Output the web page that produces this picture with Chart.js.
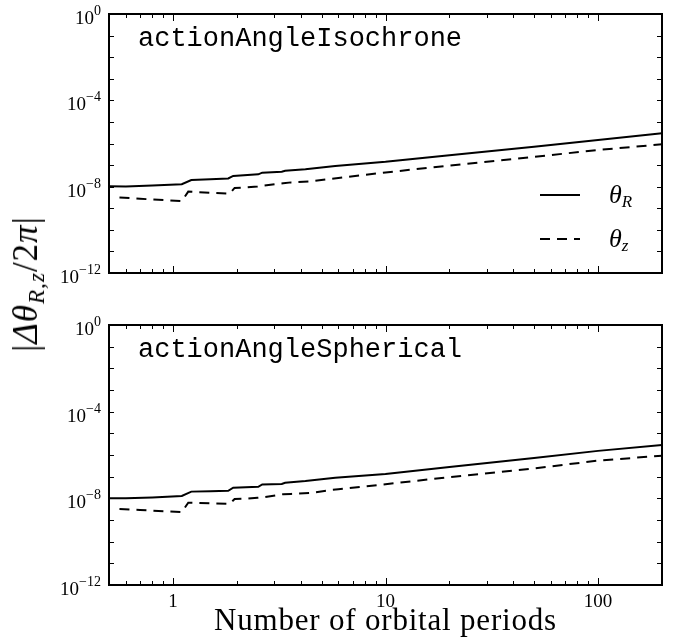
<!DOCTYPE html>
<html>
<head>
<meta charset="utf-8">
<script src="https://cdn.jsdelivr.net/npm/chart.js@4.4.1/dist/chart.umd.min.js"></script>
<style>
    html, body { margin: 0; padding: 0; background: #fff; }
    body { width: 673px; height: 644px; position: relative; overflow: hidden; }
    #grafico-arriba { position: absolute; left: 0; top: 0; }
    #grafico-abajo { position: absolute; left: 0; top: 300px; }
    #ylabel {
        position: absolute; left: 28px; top: 284px;
        transform: translate(-50%, -50%) rotate(-90deg);
        font-family: 'Liberation Serif', serif; font-size: 35px;
        white-space: nowrap; line-height: 1; letter-spacing: 1px;
    }
    #ylabel sub { font-size: 0.66em; vertical-align: -0.3em; }
</style>
</head>
<body>
<canvas id="grafico-arriba" width="673" height="300"></canvas>
<canvas id="grafico-abajo" width="673" height="344"></canvas>
<div id="ylabel">|<i>Δθ</i><sub><i>R,z</i></sub>/2<i>π</i>|</div>
<script>
// periods (x) and errors
const periodsR = [0.5, 0.6, 0.8, 1.1, 1.22, 1.5, 1.82, 1.92, 2.52, 2.63, 3.25, 3.37, 4.2, 5.8, 10, 20, 50, 100, 200];
const periodsZ = [0.56, 0.7, 1.1, 1.18, 1.5, 1.85, 1.95, 2.2, 2.5, 2.65, 3.3, 3.6, 4.5, 5.5, 6, 10, 20, 50, 100, 200];

// actionAngleIsochrone
const isoR = [1.05e-8, 1.02e-8, 1.12e-8, 1.29e-8, 2.04e-8, 2.19e-8, 2.40e-8, 3.16e-8, 3.72e-8, 4.47e-8, 4.90e-8, 5.50e-8, 6.46e-8, 9.12e-8, 1.41e-7, 2.88e-7, 7.08e-7, 1.45e-6, 2.95e-6];
const isoZ = [3.16e-9, 2.75e-9, 2.14e-9, 5.89e-9, 5.25e-9, 4.79e-9, 8.71e-9, 9.12e-9, 1.02e-8, 1.12e-8, 1.45e-8, 1.58e-8, 1.78e-8, 2.29e-8, 2.51e-8, 4.57e-8, 9.55e-8, 2.40e-7, 5.01e-7, 9.12e-7];

// actionAngleSpherical
const sphR = [1.00e-8, 1.00e-8, 1.10e-8, 1.29e-8, 2.04e-8, 2.14e-8, 2.24e-8, 3.09e-8, 3.39e-8, 4.37e-8, 4.57e-8, 5.25e-8, 6.31e-8, 8.91e-8, 1.32e-7, 2.82e-7, 7.24e-7, 1.55e-6, 2.88e-6];
const sphZ = [3.2e-9, 2.9e-9, 2.3e-9, 6.3e-9, 5.9e-9, 5.6e-9, 9.3e-9, 9.6e-9, 1.07e-8, 1.12e-8, 1.55e-8, 1.60e-8, 1.80e-8, 2.40e-8, 2.60e-8, 4.50e-8, 9.50e-8, 2.40e-7, 5.50e-7, 9.30e-7];

const panelTitles = ['actionAngleIsochrone', 'actionAngleSpherical'];
const legendSubs = ['R', 'z'];

// ticks
const xMajorTicks = [1, 10, 100];
const xTickLabels = ['1', '10', '100'];
const xMinorTicks = [0.6, 0.7, 0.8, 0.9, 2, 3, 4, 5, 6, 7, 8, 9, 20, 30, 40, 50, 60, 70, 80, 90];
const yTicks = [1e0, 1e-1, 1e-2, 1e-3, 1e-4, 1e-5, 1e-6, 1e-7, 1e-8, 1e-9, 1e-10, 1e-11, 1e-12];
const yLabelTicks = [1e0, 1e-4, 1e-8, 1e-12];
const yTickExps = ['0', '\u22124', '\u22128', '\u221212'];
const xTitle = 'Number of orbital periods';

const SERIF = "'Liberation Serif', 'DejaVu Serif', serif";

function puntos(xs, ys) {
    return xs.map((x, i) => ({ x: x, y: ys[i] }));
}

// marco, ticks hacia adentro, etiquetas, titulo del panel y leyenda
const marcoPlugin = {
    id: 'marco',
    afterDraw(chart, args, opts) {
        const ctx = chart.ctx;
        const a = chart.chartArea;
        const xs = chart.scales.x, ys = chart.scales.y;
        ctx.save();
        ctx.strokeStyle = '#000';
        ctx.fillStyle = '#000';

        // ticks
        ctx.lineWidth = 1;
        ctx.beginPath();
        yTicks.forEach(v => {
            const y = Math.round(ys.getPixelForValue(v)) + 0.5;
            ctx.moveTo(a.left, y); ctx.lineTo(a.left + 5, y);
            ctx.moveTo(a.right, y); ctx.lineTo(a.right - 5, y);
        });
        xMinorTicks.forEach(v => {
            const x = Math.round(xs.getPixelForValue(v)) + 0.5;
            ctx.moveTo(x, a.bottom); ctx.lineTo(x, a.bottom - 4);
            ctx.moveTo(x, a.top); ctx.lineTo(x, a.top + 4);
        });
        ctx.stroke();
        ctx.beginPath();
        xMajorTicks.forEach(v => {
            const x = Math.round(xs.getPixelForValue(v)) + 0.5;
            ctx.moveTo(x, a.bottom); ctx.lineTo(x, a.bottom - 7);
            ctx.moveTo(x, a.top); ctx.lineTo(x, a.top + 7);
        });
        ctx.stroke();

        // marco
        ctx.lineWidth = 2;
        ctx.strokeRect(a.left, a.top, a.right - a.left, a.bottom - a.top);

        // etiquetas del eje y
        ctx.textBaseline = 'alphabetic';
        ctx.textAlign = 'left';
        yLabelTicks.forEach((v, i) => {
            const y = ys.getPixelForValue(v);
            ctx.font = '19px ' + SERIF;
            const w10 = ctx.measureText('10').width;
            ctx.font = '14px ' + SERIF;
            const we = ctx.measureText(yTickExps[i]).width;
            const x0 = a.left - 8 - w10 - we;
            ctx.font = '19px ' + SERIF;
            ctx.fillText('10', x0, y + 10);
            ctx.font = '14px ' + SERIF;
            ctx.fillText(yTickExps[i], x0 + w10, y + 1);
        });

        // etiquetas del eje x
        if (opts.xLabels) {
            ctx.textAlign = 'center';
            ctx.font = '19px ' + SERIF;
            xMajorTicks.forEach((v, i) => {
                ctx.fillText(xTickLabels[i], xs.getPixelForValue(v), a.bottom + 22);
            });
            ctx.font = '31px ' + SERIF;
            ctx.letterSpacing = '0.8px';
            ctx.fillText(xTitle, (a.left + a.right) / 2, a.bottom + 45);
            ctx.letterSpacing = '0px';
        }

        // titulo del panel
        ctx.textAlign = 'left';
        ctx.font = "27px 'Liberation Mono', 'DejaVu Sans Mono', monospace";
        ctx.fillText(opts.title, a.left + 29, a.top + 32);

        // leyenda
        if (opts.legend) {
            chart.data.datasets.forEach((ds, i) => {
                const y = a.top + 181 + i * 44;
                ctx.lineWidth = ds.borderWidth;
                ctx.setLineDash(ds.borderDash || []);
                ctx.beginPath();
                ctx.moveTo(540, y); ctx.lineTo(580, y);
                ctx.stroke();
                ctx.setLineDash([]);
                ctx.font = 'italic 26px ' + SERIF;
                ctx.fillText('\u03b8', 609, y + 8);
                const wt = ctx.measureText('\u03b8').width;
                ctx.font = 'italic 17px ' + SERIF;
                ctx.fillText(legendSubs[i], 609 + wt, y + 12);
            });
        }
        ctx.restore();
    }
};

function crearPanel(id, datosR, datosZ, titulo, padding, conLeyenda, conEjeX) {
    return new Chart(document.getElementById(id).getContext('2d'), {
        type: 'line',
        data: {
            datasets: [{
                label: '\u03b8_R',
                data: puntos(periodsR, datosR),
                borderColor: '#000',
                borderWidth: 2,
                pointRadius: 0,
                tension: 0
            }, {
                label: '\u03b8_z',
                data: puntos(periodsZ, datosZ),
                borderColor: '#000',
                borderWidth: 2,
                borderDash: [10, 7],
                pointRadius: 0,
                tension: 0
            }]
        },
        options: {
            responsive: false,
            animation: false,
            layout: { padding: padding },
            scales: {
                x: { type: 'logarithmic', min: 0.5, max: 200, display: false },
                y: { type: 'logarithmic', min: 1e-12, max: 1, display: false }
            },
            plugins: {
                legend: { display: false },
                tooltip: { enabled: false },
                marco: { title: titulo, legend: conLeyenda, xLabels: conEjeX }
            }
        },
        plugins: [marcoPlugin]
    });
}

window.onload = function () {
    crearPanel('grafico-arriba', isoR, isoZ, panelTitles[0],
        { left: 109, top: 14, right: 11, bottom: 27 }, true, false);
    crearPanel('grafico-abajo', sphR, sphZ, panelTitles[1],
        { left: 109, top: 25, right: 11, bottom: 59 }, false, true);
};
</script>
</body>
</html>
